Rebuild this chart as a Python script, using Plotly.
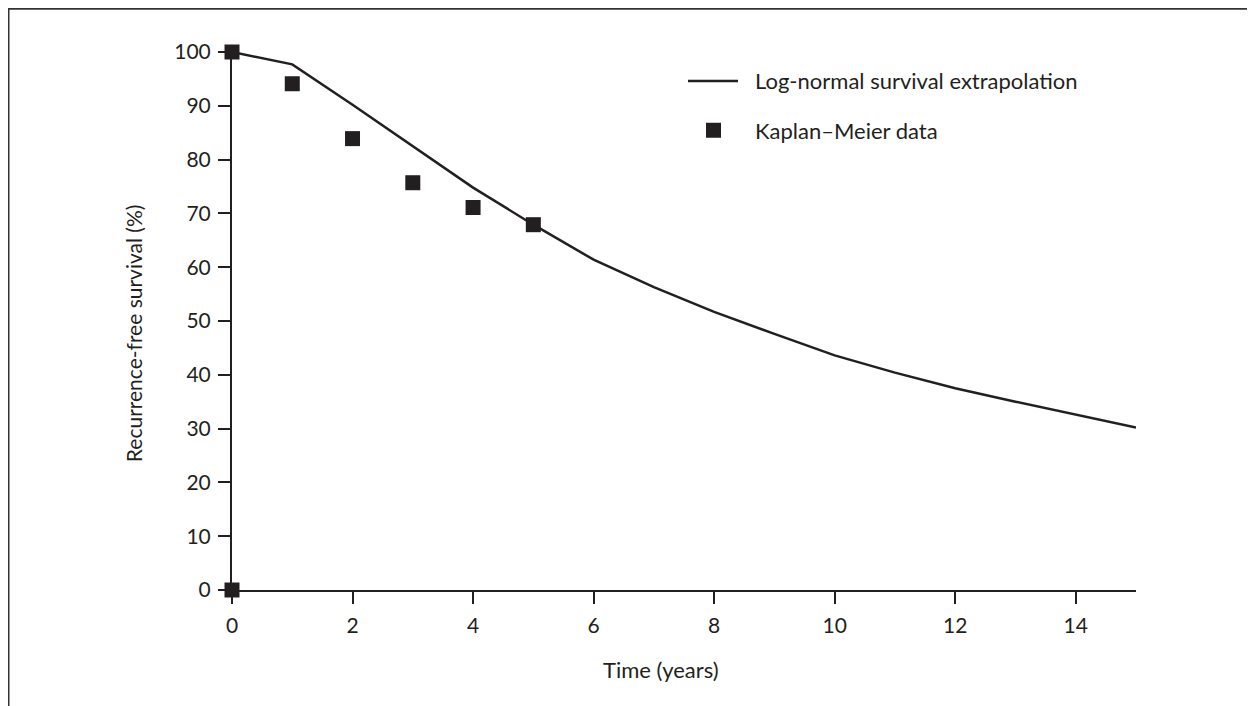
import plotly.graph_objects as go

# Data
km_years = [0, 1, 2, 3, 4, 5, 0]
km_survival = [100, 94.1, 83.9, 75.7, 71.1, 67.9, 0]

ln_years = [0, 1, 2, 3, 4, 5, 6, 7, 8, 9, 10, 11, 12, 13, 14, 15]
ln_survival = [100, 97.7, 90.2, 82.5, 74.8, 67.9, 61.4, 56.3, 51.7, 47.6,
               43.6, 40.4, 37.5, 35.0, 32.6, 30.2]

x_ticks = [0, 2, 4, 6, 8, 10, 12, 14]
y_ticks = [0, 10, 20, 30, 40, 50, 60, 70, 80, 90, 100]

legend_labels = ["Log-normal survival extrapolation", "Kaplan\u2013Meier data"]

W, H = 1255, 706
OFF = 8  # page body margin
L, R, T, B = 232 - OFF, 1136 - OFF, 51.7 - OFF, 590 - OFF
INK = "#231f20"
FONT = "Lato"


def px(x):
    # x given in screenshot pixels
    return (x - OFF - L) / (R - L)


def py(y):
    return (B - (y - OFF)) / (B - T)


fig = go.Figure()
fig.add_trace(go.Scatter(x=ln_years, y=ln_survival, mode="lines",
                         line=dict(color=INK, width=2.5), showlegend=False,
                         cliponaxis=False))
fig.add_trace(go.Scatter(x=km_years, y=km_survival, mode="markers",
                         marker=dict(symbol="square", size=15, color=INK),
                         showlegend=False, cliponaxis=False))

axis_common = dict(showgrid=False, zeroline=False, showline=True, linecolor=INK,
                   linewidth=2, ticks="outside", ticklen=12, tickwidth=2,
                   tickcolor=INK, tickfont=dict(family=FONT, size=21, color=INK))
fig.update_xaxes(range=[0, 15], tickvals=x_ticks, ticklabelstandoff=4, **axis_common)
fig.update_yaxes(range=[0, 100], tickvals=y_ticks, ticklabelstandoff=3, **axis_common)

shapes = [
    # outer frame (top and left)
    dict(type="line", xref="paper", yref="paper", x0=px(OFF), x1=px(1300), y0=py(OFF), y1=py(OFF),
         line=dict(color="#333333", width=3)),
    dict(type="line", xref="paper", yref="paper", x0=px(OFF), x1=px(OFF), y0=py(OFF), y1=py(800),
         line=dict(color="#333333", width=3)),
    # legend line sample
    dict(type="line", xref="paper", yref="paper", x0=px(688), x1=px(738), y0=py(80.7), y1=py(80.7),
         line=dict(color=INK, width=2.5)),
    # legend square sample
    dict(type="rect", xref="paper", yref="paper", x0=px(706), x1=px(721), y0=py(122.5), y1=py(137.5),
         line=dict(width=0), fillcolor=INK),
]

annotations = [
    dict(text=legend_labels[0], xref="paper", yref="paper", x=px(753), y=py(80.7),
         xanchor="left", yanchor="middle", showarrow=False,
         font=dict(family=FONT, size=22, color=INK)),
    dict(text=legend_labels[1], xref="paper", yref="paper", x=px(753), y=py(130),
         xanchor="left", yanchor="middle", showarrow=False,
         font=dict(family=FONT, size=22, color=INK)),
    dict(text="Recurrence-free survival (%)", xref="paper", yref="paper", x=px(133), y=py(333),
         xanchor="center", yanchor="middle", textangle=-90, showarrow=False,
         font=dict(family=FONT, size=21, color=INK)),
    dict(text="Time (years)", xref="paper", yref="paper", x=px(661), y=py(670),
         xanchor="center", yanchor="middle", showarrow=False,
         font=dict(family=FONT, size=22, color=INK)),
]

fig.update_layout(width=W, height=H,
                  margin=dict(l=L, r=W - R, t=T, b=H - B),
                  plot_bgcolor="white", paper_bgcolor="white",
                  shapes=shapes, annotations=annotations, showlegend=False)

fig.write_html("out.html")
